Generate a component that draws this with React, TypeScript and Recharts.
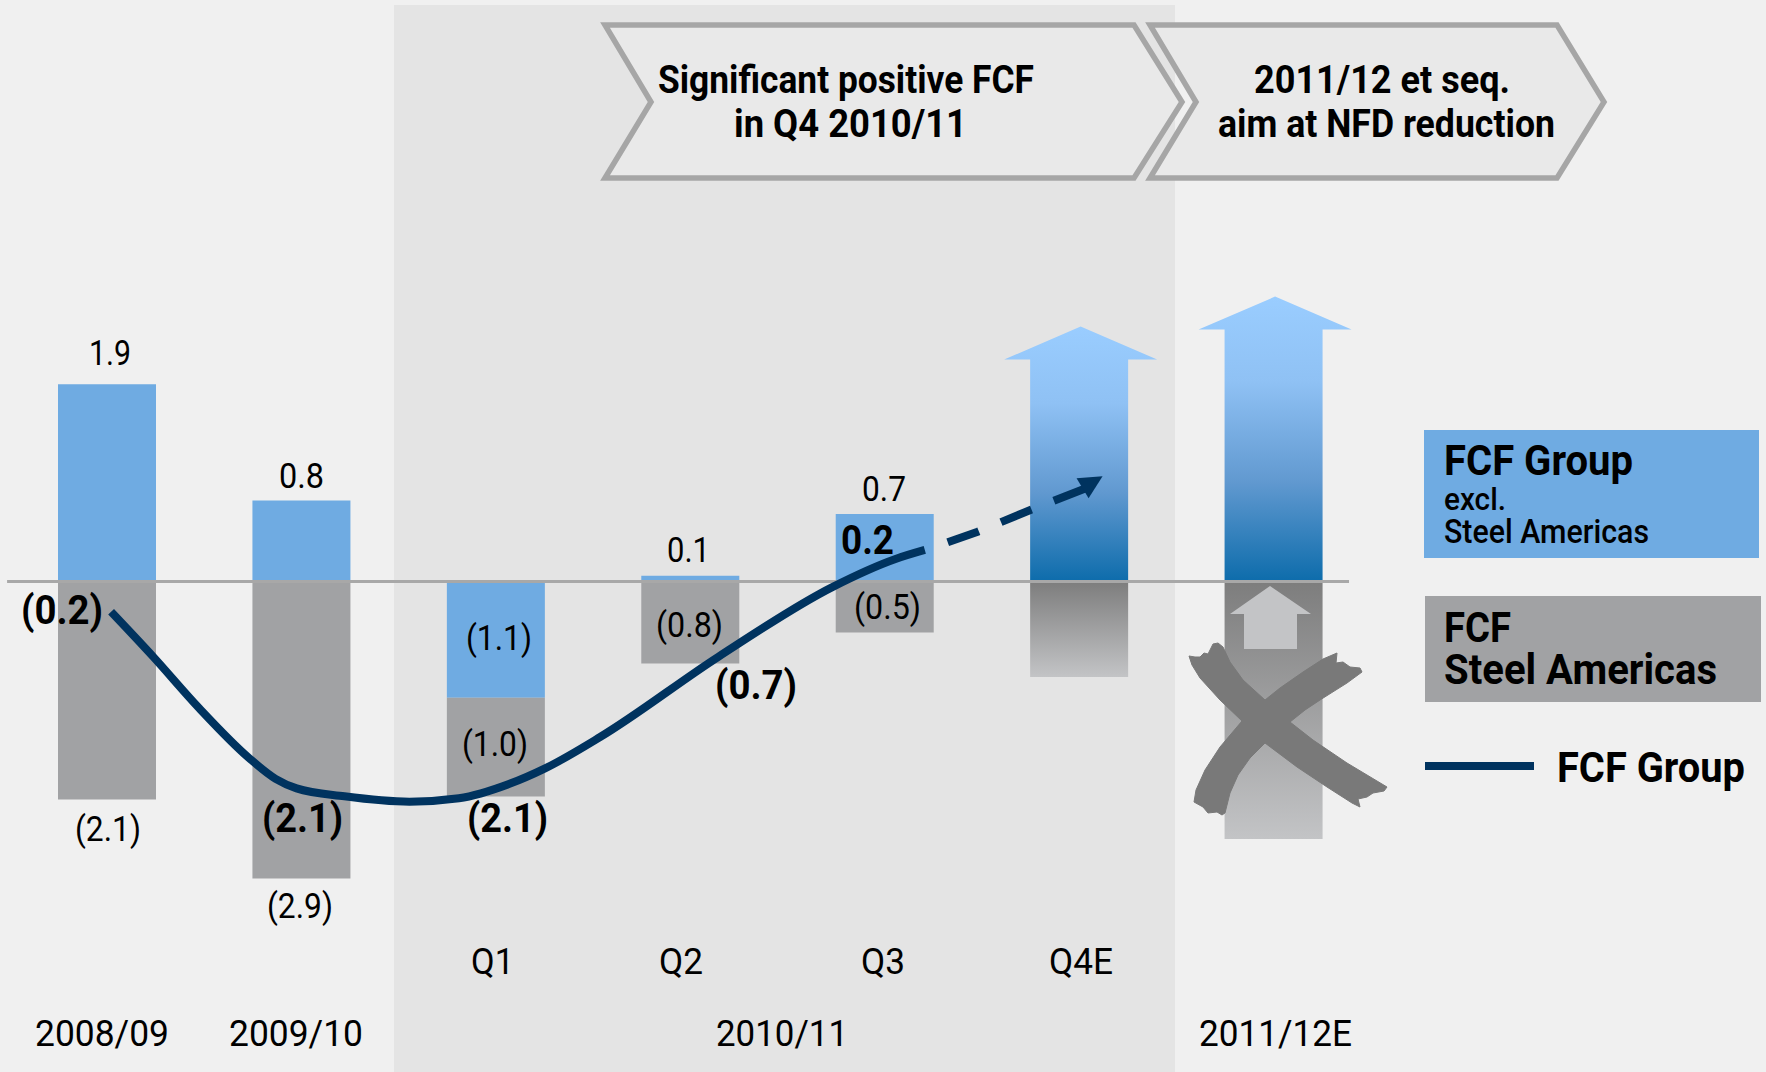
import React from "react"
import { ComposedChart, Bar, Line, XAxis, YAxis, ReferenceLine } from "recharts"

const WIDTH = 1766
const HEIGHT = 1072

const periods = ["2008/09", "2009/10", "Q1", "Q2", "Q3", "Q4E", "2011/12E"]
const fcfExclSteel = [1.9, 0.78, -1.12, 0.055, 0.65, 0, 0]
const fcfSteel = [-2.1, -2.86, -0.95, -0.79, -0.49, 0, 0]
const upside = [0, 0, 0, 0, 0, 2.456, 2.745]
const downside = [0, 0, 0, 0, 0, -0.92, -2.48]

// FCF Group line: position 0 = first bar, 1 = second bar...
const groupPos = [0.02, 0.236, 0.472, 0.729, 0.866, 0.974, 1.22, 1.555, 1.809, 2.066, 2.252, 2.535, 3.143, 3.732, 4.051, 4.205]
const groupValue = [-0.292, -0.724, -1.219, -1.7, -1.901, -1.993, -2.069, -2.121, -2.088, -1.951, -1.8, -1.498, -0.725, -0.051, 0.215, 0.304]
const outlookPos = [4.323, 4.477, 4.748, 5.032]
const outlookValue = [0.378, 0.48, 0.689, 0.898]

const valueLabels = ["1.9", "0.8", "0.1", "0.7", "(2.1)", "(2.9)", "(1.1)", "(1.0)", "(0.8)", "(0.5)"]
const valueLabelBoxes = [
  [89, 131, 364], [279, 324, 487], [667, 710, 561], [862, 906, 500], [75, 141, 840],
  [267, 333, 917], [466, 532, 649], [462, 528, 755], [656, 723, 636], [854, 921, 618],
]
const groupLabels = ["(0.2)", "(2.1)", "(2.1)", "(0.7)", "0.2"]
const groupLabelBoxes = [
  [21, 103, 623], [262, 343, 831], [467, 548, 831], [715, 797, 698], [841, 894, 553],
]
const axisLabels = ["Q1", "Q2", "Q3", "Q4E", "2008/09", "2009/10", "2010/11", "2011/12E"]
const axisLabelBoxes = [
  [471, 514, 973], [659, 703, 973], [861, 905, 973], [1049, 1113, 973],
  [35, 169, 1045], [229, 363, 1045], [716, 848, 1045], [1199, 1352, 1045],
]

const BLUE = "#6fabe2"
const GREY = "#a1a2a4"
const NAVY = "#00335f"

const barData = periods.map((period, i) => ({
  period,
  exclSteel: fcfExclSteel[i],
  steel: fcfSteel[i],
  upside: upside[i],
  downside: downside[i],
}))
const groupData = groupPos.map((pos, i) => ({ pos, value: groupValue[i] }))
const outlookData = outlookPos.map((pos, i) => ({ pos, value: outlookValue[i] }))

function UpArrow({ x, y, width, height }: any) {
  if (!height) return null
  const head = 33
  const bottom = y + height
  const points = [
    [x + width / 2 + 1.5, y],
    [x + width + 29, y + head],
    [x + width, y + head],
    [x + width, bottom],
    [x, bottom],
    [x, y + head],
    [x - 26, y + head],
  ]
  return <polygon points={points.map((p) => p.join(",")).join(" ")} fill="url(#upsideFill)" />
}

function OutlookHead({ cx, cy, index }: any) {
  if (index !== outlookPos.length - 1) return <g key={index} />
  return (
    <polygon
      key={index}
      points={`${cx + 17},${cy - 12} ${cx - 9},${cy - 10} ${cx + 3},${cy + 10}`}
      fill={NAVY}
    />
  )
}

function Txt({ box, size, weight = 400, children }: any) {
  const [x1, x2, y] = box
  return (
    <text
      x={x1}
      y={y + 1}
      fontSize={size}
      fontWeight={weight}
      fontFamily="Roboto, sans-serif"
      fill="#000"
      textLength={x2 - x1}
      lengthAdjust="spacingAndGlyphs"
    >
      {children}
    </text>
  )
}

// the crossed out brush strokes over the 2011/12E bar
const crossOutline =
  "1189,656 1195,657 1200,657 1204,653 1208,654 1210,650 1213,644 1218,643 1223,647 1230,662 1243,680 1265,700 1280,688 1303,672 1323,659 1337,653 1336,663 1343,662 1350,667 1360,668 1362,672 1347,683 1320,700 1305,710 1290,722 1313,740 1347,763 1387,787 1384,791 1373,793 1367,797 1358,799 1360,807 1352,803 1327,787 1297,767 1265,743 1250,758 1238,775 1230,793 1225,813 1222,815 1217,812 1208,813 1203,807 1194,802 1196,790 1205,770 1220,747 1242,721 1220,700 1200,678 1192,665"

export default function App() {
  return (
    <div style={{ position: "absolute", left: 0, top: 0, width: WIDTH, height: HEIGHT, background: "#f0f0f0", overflow: "hidden" }}>
      <div style={{ position: "absolute", left: 394, top: 5, width: 781, height: HEIGHT - 5, background: "#e4e4e4" }} />
      <div style={{ position: "absolute", left: 0, top: 0 }}>
        <ComposedChart
          width={WIDTH}
          height={HEIGHT}
          data={barData}
          stackOffset="sign"
          barSize={98}
          margin={{ top: 0, right: 395, bottom: 0, left: 10 }}
        >
          <defs>
            <linearGradient id="upsideFill" x1="0" y1="0" x2="0" y2="1">
              <stop offset="0" stopColor="#9acdff" />
              <stop offset="0.3" stopColor="#8fc1f4" />
              <stop offset="0.65" stopColor="#6199d0" />
              <stop offset="1" stopColor="#0d6cab" />
            </linearGradient>
            <linearGradient id="downsideFill" x1="0" y1="0" x2="0" y2="1">
              <stop offset="0" stopColor="#7d7d7d" />
              <stop offset="1" stopColor="#c3c4c6" />
            </linearGradient>
          </defs>
          <XAxis xAxisId="cat" dataKey="period" hide />
          <XAxis xAxisId="pos" dataKey="pos" type="number" domain={[-0.5, 6.5]} hide />
          <YAxis hide domain={[-4.725, 5.602]} allowDataOverflow />
          <Bar xAxisId="cat" dataKey="exclSteel" stackId="a" fill={BLUE} isAnimationActive={false} />
          <Bar xAxisId="cat" dataKey="steel" stackId="a" fill={GREY} isAnimationActive={false} />
          <Bar xAxisId="cat" dataKey="upside" stackId="a" shape={UpArrow} isAnimationActive={false} />
          <Bar xAxisId="cat" dataKey="downside" stackId="a" fill="url(#downsideFill)" isAnimationActive={false} />
          <ReferenceLine
            xAxisId="pos"
            segment={[{ x: -0.515, y: 0 }, { x: 6.387, y: 0 }]}
            stroke="#a8a8a8"
            strokeWidth={3}
            ifOverflow="visible"
          />
          <Line
            xAxisId="pos"
            data={groupData}
            dataKey="value"
            type="monotone"
            stroke={NAVY}
            strokeWidth={8}
            dot={false}
            isAnimationActive={false}
          />
          <Line
            xAxisId="pos"
            data={outlookData}
            dataKey="value"
            type="linear"
            stroke={NAVY}
            strokeWidth={8}
            strokeDasharray="33 24"
            dot={OutlookHead}
            isAnimationActive={false}
          />
        </ComposedChart>
      </div>

      <svg width={WIDTH} height={HEIGHT} style={{ position: "absolute", left: 0, top: 0 }}>
        <polygon
          points="1150,25 1557,25 1604,102 1557,178 1150,178 1196,102"
          fill="#e9e9e9"
          stroke="#a6a6a6"
          strokeWidth={5.5}
        />
        <polygon
          points="605,25 1134,25 1182,102 1134,178 605,178 651,102"
          fill="#e9e9e9"
          stroke="#a6a6a6"
          strokeWidth={5.5}
        />
        <Txt box={[658, 1034, 92]} size={38} weight={700}>Significant positive FCF</Txt>
        <Txt box={[734, 967, 136]} size={38} weight={700}>in Q4 2010/11</Txt>
        <Txt box={[1254, 1510, 92]} size={38} weight={700}>2011/12 et seq.</Txt>
        <Txt box={[1218, 1555, 136]} size={38} weight={700}>aim at NFD reduction</Txt>

        <polygon points="1270,586 1311,614 1297,614 1297,649 1244,649 1244,614 1230,614" fill="#c3c4c6" />
        <polygon points={crossOutline} fill="#797979" stroke="#797979" strokeLinejoin="round" />

        {valueLabels.map((label, i) => (
          <Txt key={i} box={valueLabelBoxes[i]} size={35}>{label}</Txt>
        ))}
        {groupLabels.map((label, i) => (
          <Txt key={i} box={groupLabelBoxes[i]} size={40} weight={700}>{label}</Txt>
        ))}
        {axisLabels.map((label, i) => (
          <Txt key={i} box={axisLabelBoxes[i]} size={36}>{label}</Txt>
        ))}

        <rect x={1424} y={430} width={335} height={128} fill={BLUE} />
        <Txt box={[1444, 1633, 474]} size={42} weight={700}>FCF Group</Txt>
        <Txt box={[1444, 1506, 509]} size={31} weight={500}>excl.</Txt>
        <Txt box={[1444, 1649, 542]} size={33} weight={500}>Steel Americas</Txt>

        <rect x={1425} y={596} width={336} height={106} fill={GREY} />
        <Txt box={[1444, 1511, 641]} size={42} weight={700}>FCF</Txt>
        <Txt box={[1444, 1717, 683]} size={42} weight={700}>Steel Americas</Txt>

        <rect x={1425} y={762} width={109} height={8} fill={NAVY} />
        <Txt box={[1557, 1745, 781]} size={42} weight={700}>FCF Group</Txt>
      </svg>
    </div>
  )
}
